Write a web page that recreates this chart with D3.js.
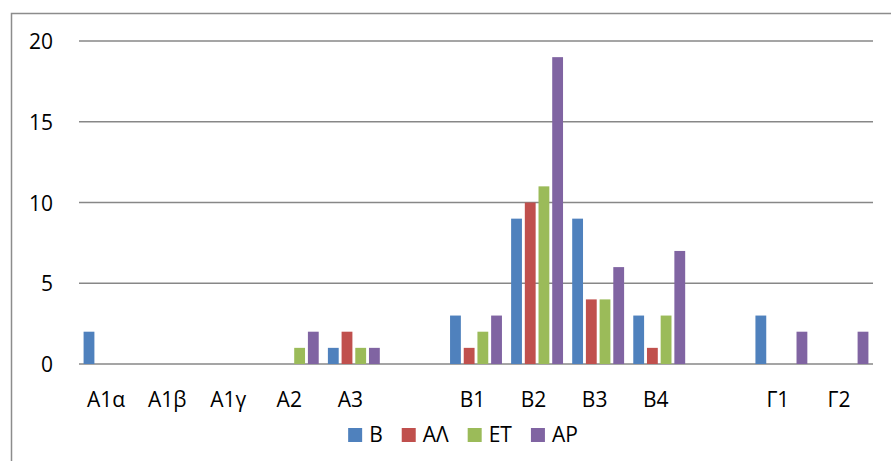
<!DOCTYPE html>
<html>
<head>
<meta charset="utf-8">
<script src="https://cdn.jsdelivr.net/npm/d3@7"></script>
<style>
  html, body { margin: 0; padding: 0; background: #fff; }
  svg { display: block; }
  text { font-family: "Open Sans", "Noto Sans", "DejaVu Sans", sans-serif; fill: #000; }
</style>
</head>
<body>
<svg id="chart" width="891" height="461"></svg>
<script>
// Categories (blank entries are spacer slots between the groups)
const categories = ["Α1α", "Α1β", "Α1γ", "Α2", "Α3", "", "Β1", "Β2", "Β3", "Β4", "", "Γ1", "Γ2"];
const seriesNames = ["Β", "ΑΛ", "ΕΤ", "ΑΡ"];
const seriesColors = ["#4F81BD", "#C0504D", "#9BBB59", "#8064A2"];
const valuesB  = [2, 0, 0, 0, 1, 0, 3, 9, 9, 3, 0, 3, 0];
const valuesAL = [0, 0, 0, 0, 2, 0, 1, 10, 4, 1, 0, 0, 0];
const valuesET = [0, 0, 0, 1, 1, 0, 2, 11, 4, 3, 0, 0, 0];
const valuesAP = [0, 0, 0, 2, 1, 0, 3, 19, 6, 7, 0, 2, 2];
const yTicks = [0, 5, 10, 15, 20];

const seriesValues = [valuesB, valuesAL, valuesET, valuesAP];
const fontSize = "21px";

const svg = d3.select("#chart");
const plotLeft = 79, plotRight = 873, plotTop = 41, plotBottom = 364;

// Outer frame (left and top edges)
svg.append("path")
  .attr("d", "M11.5,461 V13.5 H891")
  .attr("fill", "none")
  .attr("stroke", "#8c8c8c")
  .attr("stroke-width", 1.5);

const x0 = d3.scaleBand()
  .domain(d3.range(categories.length))
  .range([plotLeft, plotRight])
  .paddingInner(0).paddingOuter(0);

const groupW = x0.bandwidth() * 0.897;
const x1 = d3.scaleBand()
  .domain(d3.range(seriesNames.length))
  .range([-groupW / 2, groupW / 2])
  .paddingInner(0.21)
  .paddingOuter(0.105);

const y = d3.scaleLinear().domain([0, 20]).range([plotBottom, plotTop]);

// Horizontal gridlines, including the baseline at 0
svg.append("g")
  .selectAll("line")
  .data(yTicks)
  .join("line")
  .attr("x1", plotLeft).attr("x2", plotRight)
  .attr("y1", d => y(d)).attr("y2", d => y(d))
  .attr("stroke", "#878787")
  .attr("stroke-width", 1.6);

// Y tick labels
svg.append("g")
  .selectAll("text")
  .data(yTicks)
  .join("text")
  .attr("x", 53)
  .attr("y", d => y(d) + 8)
  .attr("text-anchor", "end")
  .style("font-size", fontSize)
  .text(d => d);

// Bars
const groups = svg.append("g")
  .selectAll("g")
  .data(categories.map((c, i) => i))
  .join("g")
  .attr("transform", i => `translate(${x0(i) + x0.bandwidth() / 2},0)`);

groups.selectAll("rect")
  .data(i => seriesValues.map((vals, s) => ({ s, v: vals[i] })).filter(d => d.v > 0))
  .join("rect")
  .attr("x", d => x1(d.s))
  .attr("width", x1.bandwidth())
  .attr("y", d => y(d.v))
  .attr("height", d => y(0) - y(d.v))
  .attr("fill", d => seriesColors[d.s]);

// Category labels
svg.append("g")
  .selectAll("text")
  .data(categories)
  .join("text")
  .attr("x", (d, i) => x0(i) + x0.bandwidth() / 2 - 3.5)
  .attr("y", 407)
  .attr("text-anchor", "middle")
  .style("font-size", fontSize)
  .text(d => d);

// Legend
const legend = svg.append("g");
const items = legend.selectAll("g")
  .data(seriesNames)
  .join("g");
items.append("rect")
  .attr("width", 14).attr("height", 14)
  .attr("y", 428)
  .attr("fill", (d, i) => seriesColors[i]);
items.append("text")
  .attr("x", 21)
  .attr("y", 442)
  .style("font-size", fontSize)
  .text(d => d);

let cursor = 0;
const offsets = [];
items.each(function () {
  offsets.push(cursor);
  const w = d3.select(this).select("text").node().getComputedTextLength();
  cursor += 21 + w + 19;
});
const totalW = cursor - 19;
const startX = 463 - totalW / 2;
items.attr("transform", (d, i) => `translate(${startX + offsets[i]},0)`);
</script>
</body>
</html>
